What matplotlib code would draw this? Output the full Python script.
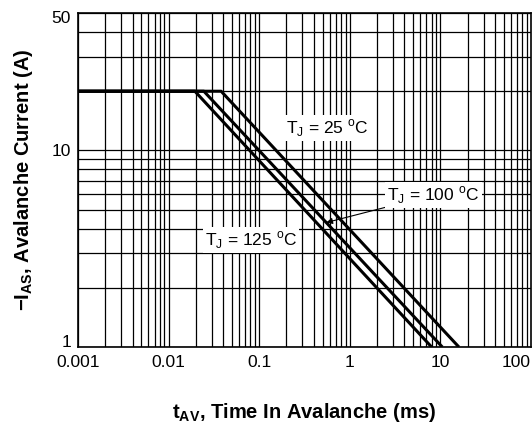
import numpy as np
import matplotlib.pyplot as plt
import matplotlib.transforms as mtransforms
from matplotlib.ticker import FixedLocator, NullFormatter, FixedFormatter

plt.rcParams['font.family'] = ['Liberation Sans', 'DejaVu Sans']
plt.rcParams['mathtext.fontset'] = 'custom'
plt.rcParams['mathtext.rm'] = 'Liberation Sans'
plt.rcParams['mathtext.bf'] = 'Liberation Sans:bold'

# avalanche current vs time in avalanche
t_25 = [0.001, 0.038, 16.0]
i_25 = [20, 20, 1]
t_100 = [0.001, 0.0245, 10.5]
i_100 = [20, 20, 1]
t_125 = [0.001, 0.0195, 8.0]
i_125 = [20, 20, 1]

x_ticks = [0.001, 0.01, 0.1, 1, 10, 100]
x_labels = ['0.001', '0.01', '0.1', '1', '10', '100']
y_ticks = [1, 10, 50]
y_labels = ['1', '10', '50']

fig = plt.figure(figsize=(5.32, 4.30), dpi=100)
ax = fig.add_axes([0.1466, 0.193, 0.8515, 0.7768])
ax.set_xscale('log')
ax.set_yscale('log')
ax.set_xlim(0.001, 100)
ax.set_ylim(1, 50)

# grid: every 1..9 per decade
xg = [m * 10.0**e for e in range(-3, 2) for m in range(1, 10)]
yg = [m * 10.0**e for e in range(0, 2) for m in range(1, 10) if m * 10.0**e <= 50]
for v in xg:
    ax.axvline(v, color='black', lw=0.9, zorder=1)
for v in yg:
    ax.axhline(v, color='black', lw=0.9, zorder=1)

for t, i in [(t_25, i_25), (t_100, i_100), (t_125, i_125)]:
    ax.plot(t, i, color='black', lw=2.2, solid_capstyle='butt', zorder=3)

ax.xaxis.set_major_locator(FixedLocator(x_ticks))
ax.xaxis.set_major_formatter(FixedFormatter(x_labels))
ax.xaxis.set_minor_locator(FixedLocator([]))
ax.xaxis.set_minor_formatter(NullFormatter())
ax.yaxis.set_major_locator(FixedLocator(y_ticks))
ax.yaxis.set_major_formatter(FixedFormatter(y_labels))
ax.yaxis.set_minor_locator(FixedLocator([]))
ax.yaxis.set_minor_formatter(NullFormatter())
ax.tick_params(axis='x', length=0, labelsize=12.5, pad=6)
ax.tick_params(axis='y', length=0, labelsize=12.5, pad=5)
for s in ax.spines.values():
    s.set_linewidth(1.2)
fig.canvas.draw()
ax.get_xticklabels()[-1].set_horizontalalignment('right')
# nudge the "1" up a bit, like the original, so it clears 0.001
lab1 = ax.get_yticklabels()[0]
lab1.set_transform(lab1.get_transform() + mtransforms.ScaledTranslation(0, 4 / 72, fig.dpi_scale_trans))
lab50 = ax.get_yticklabels()[-1]
lab50.set_transform(lab50.get_transform() + mtransforms.ScaledTranslation(0, -3 / 72, fig.dpi_scale_trans))

box = dict(facecolor='white', edgecolor='none', pad=1.5)
ax.text(0.57, 13.0, r'T$_\mathregular{J}$ = 25 $^\mathregular{o}$C', fontsize=12.5,
        ha='center', va='center', bbox=box, zorder=5)
ax.text(0.0815, 3.5, r'T$_\mathregular{J}$ = 125 $^\mathregular{o}$C', fontsize=12.5,
        ha='center', va='center', bbox=box, zorder=5)

# arrow tip sits on the 100 C line
tip_t = 0.55
tip_i = np.exp(np.interp(np.log(tip_t), np.log(t_100), np.log(i_100)))
ax.annotate(r'T$_\mathregular{J}$ = 100 $^\mathregular{o}$C', xy=(tip_t, tip_i), xytext=(8.35, 5.93),
            fontsize=12.5, ha='center', va='center', bbox=box, zorder=5,
            arrowprops=dict(arrowstyle='-|>', color='black', lw=0.8,
                            mutation_scale=9, shrinkA=0, shrinkB=0))

ax.set_xlabel(r'$\mathbf{t_{AV}}$, Time In Avalanche (ms)', fontsize=14.5,
              fontweight='bold', labelpad=22)
ax.set_ylabel(r'$\mathbf{-I_{AS}}$, Avalanche Current (A)', fontsize=14.5,
              fontweight='bold', labelpad=12)

fig.savefig('out.png', dpi=100)
